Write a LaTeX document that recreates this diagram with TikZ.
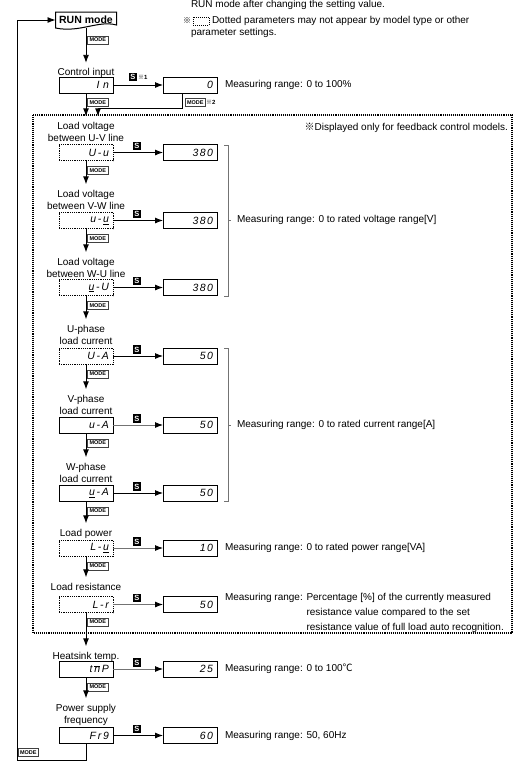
\documentclass[tikz,border=0pt]{standalone}
\usepackage{fontspec}
\setmainfont{Liberation Sans}
\newfontfamily\cjk{Noto Sans CJK JP}
\newfontfamily\segfont{Liberation Sans}[LetterSpace=14.0]
\usetikzlibrary{arrows.meta}
\newcommand\segw{\underline{u}}
\newcommand\segm{$\overline{\mbox{n}}$}
\newcommand\refm{{\cjk ※}}
\begin{document}
\begin{tikzpicture}[x=1pt,y=-1pt,
  every node/.style={inner sep=0pt, outer sep=0pt},
  txt/.style={font=\fontsize{10}{12}\selectfont},
  lbl/.style={txt, align=center, anchor=north},
  meas/.style={txt, anchor=west},
  seg/.style={font=\segfont\fontsize{10.5}{10.5}\selectfont\itshape},
  pbox/.style={draw, line width=0.8pt, minimum width=54pt, minimum height=16pt, text width=46pt, align=right, seg},
  dbox/.style={pbox, dash pattern=on 1.2pt off 1pt},
  sbtn/.style={fill=black, text=white, font=\fontsize{7.5}{7.5}\selectfont\bfseries, minimum width=8.5pt, minimum height=8.5pt},
  mbtn/.style={draw=black!75, line width=1pt, fill=white, font=\fontsize{5.5}{5.5}\selectfont\bfseries, inner xsep=2pt, minimum height=8pt, anchor=west},
  note/.style={font=\fontsize{6}{6}\selectfont, anchor=west},
  arr/.style={line width=0.9pt, -{Latex[length=8pt,width=6pt,color=black]}},
  garr/.style={arr, draw=black!55},
  brk/.style={draw=black!55, line width=0.6pt},
]
\fill[white] (0,0) rectangle (517,764);
\useasboundingbox (0,0) rectangle (517,764);

% top notes
\node[txt, anchor=west] (t1) at (191,5) {RUN mode after changing the setting value.};
\node[font=\fontsize{8}{8}\selectfont] (t2m) at (187,21) {\refm};
\node[draw, dash pattern=on 1pt off 1pt, line width=0.6pt, minimum width=16pt, minimum height=8pt] (t2b) at (201,21) {};
\node[txt, anchor=west] (t2) at (212,21) {Dotted parameters may not appear by model type or other};
\node[txt, anchor=west] (t3) at (191,33) {parameter settings.};

% RUN mode
\node[font=\fontsize{10.5}{10.5}\selectfont\bfseries, minimum width=61pt, minimum height=16pt] (run) at (86,20) {RUN mode};
\draw[line width=1pt] (55.5,12) -- (116.5,12) -- (116.5,25) .. controls (98,20) and (80,33) .. (55.5,28) -- cycle;
\node[mbtn] (m0) at (87.5,40) {MODE};

% control input
\node[lbl] (lC) at (86,67.8) {Control input};
\draw[arr] (run.south) -- ([yshift=5pt]lC.north);
\node[pbox] (pC) at (86,85) {I\,\,n};
\node[pbox] (vC) at (190,85) {0};
\node[sbtn] (sC) at (133,77) {S};
\node[note, anchor=south west] (sCn) at (138,79) {\refm\textbf{1}};
\draw[arr] (pC) -- (vC);
\node[meas] (mC) at (225,85) {Measuring range: 0 to 100\%};
\node[mbtn] (mC1) at (87.5,102.5) {MODE};
\node[mbtn] (mC2) at (185,102.5) {MODE};
\node[note] (mC2n) at (206,102.5) {\refm\textbf{2}};

% dotted region
\draw[line width=1.1pt, dash pattern=on 1.1pt off 1pt] (33,115) rectangle (512,633);
\node[txt, anchor=east] (fbn) at (508,128) {\refm Displayed only for feedback control models.};

% U-V
\node[lbl] (lUV) at (86,121.8) {Load voltage\\between U-V line};
\draw[arr] (pC) -- ([yshift=5.5pt]lUV.north);
\draw[arr] ([xshift=-7.5pt]vC.south) |- ([xshift=12pt,yshift=13pt]lUV.north) -- ([xshift=12pt,yshift=5.5pt]lUV.north);
\node[dbox] (pUV) at (86,152.5) {U\,-\,u};
\node[pbox] (vUV) at (190,152.5) {380};
\node[sbtn] (sUV) at (137,146) {S};
\draw[arr] (pUV) -- (vUV);
\node[mbtn] (mUV) at (87.5,170.5) {MODE};

% V-W
\node[lbl] (lVW) at (86,189.8) {Load voltage\\between V-W line};
\draw[arr] (pUV) -- ([yshift=5.5pt]lVW.north);
\node[dbox] (pVW) at (86,220.5) {u\,-\,\segw};
\node[pbox] (vVW) at (190,220.5) {380};
\node[sbtn] (sVW) at (137,214) {S};
\draw[arr] (pVW) -- (vVW);
\node[mbtn] (mVW) at (87.5,238.5) {MODE};

% W-U
\node[lbl] (lWU) at (86,257.8) {Load voltage\\between W-U line};
\draw[arr] (pVW) -- ([yshift=5.5pt]lWU.north);
\node[dbox] (pWU) at (86,287.5) {\segw\,-\,U};
\node[pbox] (vWU) at (190,287.5) {380};
\node[sbtn] (sWU) at (137,281) {S};
\draw[arr] (pWU) -- (vWU);
\node[mbtn] (mWU) at (87.5,305.5) {MODE};

% voltage bracket
\draw[brk] (224,145) -- (228,145) -- (228,296) -- (224,296);
\draw[brk] (228,220) -- (231,220);
\node[meas] (mV) at (237,220) {Measuring range: 0 to rated voltage range[V]};

% U-A
\node[lbl] (lUA) at (86,324.8) {U-phase\\load current};
\draw[arr] (pWU) -- ([yshift=5.5pt]lUA.north);
\node[dbox] (pUA) at (86,356) {U\,-\,A};
\node[pbox] (vUA) at (190,356) {50};
\node[sbtn] (sUA) at (137,349.5) {S};
\draw[arr] (pUA) -- (vUA);
\node[mbtn] (mUA) at (87.5,374) {MODE};

% V-A
\node[lbl] (lVA) at (86,394.8) {V-phase\\load current};
\draw[arr] (pUA) -- ([yshift=5.5pt]lVA.north);
\node[pbox] (pVA) at (86,425) {u\,-\,A};
\node[pbox] (vVA) at (190,425) {50};
\node[sbtn] (sVA) at (137,418.5) {S};
\draw[garr] (pVA) -- (vVA);
\node[mbtn] (mVA) at (87.5,443) {MODE};

% W-A
\node[lbl] (lWA) at (86,462.8) {W-phase\\load current};
\draw[arr] (pVA) -- ([yshift=5.5pt]lWA.north);
\node[pbox] (pWA) at (86,493) {\segw\,-\,A};
\node[pbox] (vWA) at (190,493) {50};
\node[sbtn] (sWA) at (137,486.5) {S};
\draw[arr] (pWA) -- (vWA);
\node[mbtn] (mWA) at (87.5,511) {MODE};

% current bracket
\draw[brk] (224,348) -- (228,348) -- (228,501) -- (224,501);
\draw[brk] (228,425) -- (231,425);
\node[meas] (mA) at (237,425) {Measuring range: 0 to rated current range[A]};

% L-W
\node[lbl] (lLW) at (86,528.8) {Load power};
\draw[arr] (pWA) -- ([yshift=5.5pt]lLW.north);
\node[dbox] (pLW) at (86,548) {L\,-\,\segw};
\node[pbox] (vLW) at (190,548) {10};
\node[sbtn] (sLW) at (137,541.5) {S};
\draw[garr] (pLW) -- (vLW);
\node[mbtn] (mLW) at (87.5,566) {MODE};
\node[meas] (mP) at (225,548) {Measuring range: 0 to rated power range[VA]};

% L-r
\node[lbl] (lLr) at (86,582.8) {Load resistance};
\draw[arr] (pLW) -- ([yshift=5.5pt]lLr.north);
\node[dbox] (pLr) at (86,604.5) {L\,-\,r};
\node[pbox] (vLr) at (190,604.5) {50};
\node[sbtn] (sLr) at (137,598) {S};
\draw[garr] (pLr) -- (vLr);
\node[mbtn] (mLr) at (87.5,622) {MODE};
\node[font=\fontsize{10}{15}\selectfont, anchor=north west] (mR) at (225,590) {\begin{tabular}{@{}l@{ }l@{}}Measuring range: & Percentage [\%] of the currently measured\\ & resistance value compared to the set\\ & resistance value of full load auto recognition.\end{tabular}};

% tmP
\node[lbl] (lT) at (86,651.8) {Heatsink temp.};
\draw[arr] (pLr) -- ([yshift=5.5pt]lT.north);
\node[pbox] (pT) at (86,669) {t\,\segm\,P};
\node[pbox] (vT) at (190,669) {25};
\node[sbtn] (sT) at (137,662.5) {S};
\draw[garr] (pT) -- (vT);
\node[mbtn] (mT) at (87.5,687) {MODE};
\node[meas] (mTt) at (225,669) {Measuring range: 0 to 100{\cjk ℃}};

% Fr9
\node[lbl] (lF) at (86,703.8) {Power supply\\frequency};
\draw[arr] (pT) -- ([yshift=5.5pt]lF.north);
\node[pbox] (pF) at (86,735.5) {F\,r\,9};
\node[pbox] (vF) at (190,735.5) {60};
\node[sbtn] (sF) at (137,729) {S};
\draw[arr] (pF) -- (vF);
\node[meas] (mF) at (225,735.5) {Measuring range: 50, 60Hz};

% feedback
\coordinate (fb) at (17,760);
\draw[arr] (pF) |- (fb) |- (run.west);
\node[mbtn] (mFb) at (18,752.5) {MODE};
\end{tikzpicture}
\end{document}
